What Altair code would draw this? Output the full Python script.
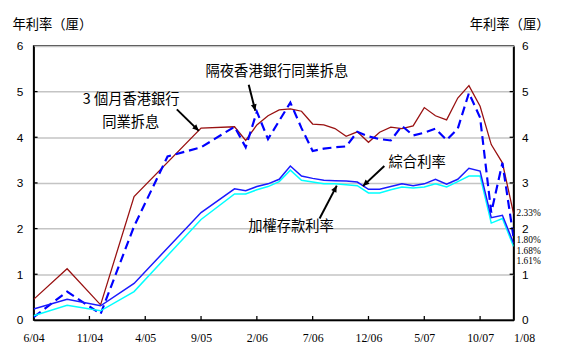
import math
import altair as alt
import pandas as pd

# ---------------- data ----------------
hibor3m_months = ["2004-06", "2004-09", "2004-12", "2005-03", "2005-09", "2005-12",
                  "2006-01", "2006-02", "2006-03", "2006-04", "2006-05", "2006-06", "2006-07",
                  "2006-08", "2006-09", "2006-10", "2006-11", "2006-12", "2007-01", "2007-02",
                  "2007-03", "2007-04", "2007-05", "2007-06", "2007-07", "2007-08", "2007-09",
                  "2007-10", "2007-11", "2007-12", "2008-01"]
hibor3m_values = [0.45, 1.12, 0.33, 2.70, 4.20, 4.23,
                  3.93, 4.27, 4.47, 4.60, 4.62, 4.57, 4.29,
                  4.27, 4.19, 4.02, 4.12, 3.89, 4.11, 4.22,
                  4.19, 4.25, 4.65, 4.47, 4.38, 4.86, 5.13,
                  4.68, 3.84, 3.44, 2.33]

overnight_months = ["2004-06", "2004-09", "2004-12", "2005-03", "2005-06", "2005-09", "2005-12",
                    "2006-01", "2006-02", "2006-03", "2006-04", "2006-05", "2006-06", "2006-07",
                    "2006-08", "2006-09", "2006-10", "2006-11", "2006-12", "2007-01", "2007-02",
                    "2007-03", "2007-04", "2007-05", "2007-06", "2007-07", "2007-08", "2007-09",
                    "2007-10", "2007-11", "2007-12", "2008-01"]
overnight_values = [0.06, 0.62, 0.13, 2.05, 3.58, 3.78, 4.23,
                    3.78, 4.56, 3.96, 4.36, 4.76, 4.20, 3.70,
                    3.75, 3.78, 3.80, 4.12, 4.02, 3.96, 3.93,
                    4.25, 4.04, 4.10, 4.19, 3.94, 4.19, 4.97,
                    4.43, 2.35, 3.44, 1.80]

composite_months = hibor3m_months
composite_values = [0.24, 0.45, 0.31, 0.80, 2.35, 2.87,
                    2.83, 2.92, 2.98, 3.08, 3.37, 3.15, 3.10,
                    3.06, 3.05, 3.04, 3.02, 2.86, 2.86, 2.92,
                    2.98, 2.94, 2.98, 3.08, 2.97, 3.08, 3.32,
                    3.26, 2.24, 2.29, 1.68]

deposit_months = hibor3m_months
deposit_values = [0.09, 0.32, 0.20, 0.62, 2.20, 2.76,
                  2.76, 2.85, 2.92, 3.03, 3.28, 3.06, 3.02,
                  2.98, 2.98, 2.96, 2.94, 2.78, 2.78, 2.85,
                  2.91, 2.89, 2.91, 2.98, 2.91, 3.03, 3.15,
                  3.15, 2.12, 2.22, 1.61]

xtick_months = ["2004-06", "2004-11", "2005-04", "2005-09", "2006-02", "2006-07",
                "2006-12", "2007-05", "2007-10", "2008-01"]
xtick_labels = ["6/04", "11/04", "4/05", "9/05", "2/06", "7/06", "12/06", "5/07", "10/07", "1/08"]
ytick_values = [0, 1, 2, 3, 4, 5, 6]

pct_labels = ["2.33%", "1.80%", "1.68%", "1.61%"]
pct_label_pos = [2.34, 1.75, 1.51, 1.28]

axis_title = "年利率（厘）"

ann_texts = ["3 個月香港銀行", "同業拆息", "隔夜香港銀行同業拆息", "綜合利率", "加權存款利率"]
ann_m = [8.74, 8.70, 21.8, 34.36, 23.06]
ann_v = [4.81, 4.32, 5.42, 3.43, 2.04]

arrow_m0 = [12.83, 19.27, 31.42, 25.62]
arrow_v0 = [4.61, 5.15, 3.37, 2.22]
arrow_m1 = [14.80, 19.86, 29.50, 27.16]
arrow_v1 = [4.14, 4.58, 2.93, 2.94]

# ---------------- layout ----------------
W, H = 487, 278
N_MONTHS = 43
CJK = "Noto Sans CJK TC"


def midx(s):
    y, m = s.split("-")
    return (int(y) - 2004) * 12 + int(m) - 6


def series_df(months, values):
    return pd.DataFrame({"m": [midx(s) for s in months], "v": values})


xticks = [midx(s) for s in xtick_months]
label_expr = "''"
for val, lab in reversed(list(zip(xticks, xtick_labels))):
    label_expr = f"datum.value == {val} ? '{lab}' : ({label_expr})"

xscale = alt.Scale(domain=[0, N_MONTHS], nice=False, zero=False)
yscale = alt.Scale(domain=[0, 6], nice=False, zero=True)

x_axis = alt.Axis(
    values=xticks, labelExpr=label_expr, grid=False, domain=True, domainColor="black",
    domainWidth=1.5, ticks=False, labelPadding=13, labelFont="Liberation Serif",
    labelFontSize=12, labelColor="black", labelFlush=False,
    labelAlign={"condition": {"test": f"datum.value == {N_MONTHS}", "value": "left"}, "value": "center"},
    title=None)

y_axis = alt.Axis(
    values=ytick_values, grid=True, gridColor="#c4c4c4", gridWidth=1.5,
    domain=True, domainColor="black", domainWidth=1.5, ticks=False,
    labelPadding=11, labelFont="Liberation Sans", labelFontSize=12, labelColor="black",
    title=axis_title, titleAngle=0, titleAlign="left", titleBaseline="middle",
    titleX=-22, titleY=-22, titleFont=CJK, titleFontSize=13.5, titleFontWeight="normal",
    titleColor="black")


def X(field):
    return alt.X(f"{field}:Q", scale=xscale, axis=x_axis)


def Y(field):
    return alt.Y(f"{field}:Q", scale=yscale, axis=y_axis)


def line(months, values, color, width, dash=None):
    kw = dict(color=color, strokeWidth=width, clip=True)
    if dash:
        kw["strokeDash"] = dash
    return alt.Chart(series_df(months, values)).mark_line(**kw).encode(x=X("m"), y=Y("v"))


l_3m = line(hibor3m_months, hibor3m_values, "#991111", 1.3)
l_on = line(overnight_months, overnight_values, "#0000ff", 2.2, [9, 5])
l_dep = line(deposit_months, deposit_values, "#00ffff", 1.5)
l_comp = line(composite_months, composite_values, "#1a1aff", 1.5)

# inward tick marks
ytick_df = pd.DataFrame({"v": ytick_values[1:-1]})
yt_left = alt.Chart(ytick_df).mark_rule(color="black", strokeWidth=1.3).encode(
    y=Y("v"), x=alt.value(0), x2=alt.value(4))
yt_right = alt.Chart(ytick_df).mark_rule(color="black", strokeWidth=1.3).encode(
    y=Y("v"), x=alt.value(W - 4), x2=alt.value(W))
xtick_df = pd.DataFrame({"m": xticks[1:-1]})
xt = alt.Chart(xtick_df).mark_rule(color="black", strokeWidth=1.3).encode(
    x=X("m"), y=alt.value(H - 4), y2=alt.value(H))

# annotations
ann_df = pd.DataFrame({"m": ann_m, "v": ann_v, "t": ann_texts})
ann = alt.Chart(ann_df).mark_text(font=CJK, fontSize=14.5, color="black",
                                  align="center", baseline="middle").encode(
    x=X("m"), y=Y("v"), text="t:N")

px_x = W / N_MONTHS
px_y = H / 6.0
angles = []
for a0, b0, a1, b1 in zip(arrow_m0, arrow_v0, arrow_m1, arrow_v1):
    dx = (a1 - a0) * px_x
    dy = -(b1 - b0) * px_y
    angles.append((math.degrees(math.atan2(dx, -dy)) + 360) % 360)
arr_df = pd.DataFrame({"m0": arrow_m0, "v0": arrow_v0, "m1": arrow_m1, "v1": arrow_v1, "ang": angles})
arr_lines = alt.Chart(arr_df).mark_rule(color="black", strokeWidth=2).encode(
    x=X("m0"), y=Y("v0"), x2="m1:Q", y2="v1:Q")
arr_heads = alt.Chart(arr_df).mark_point(
    shape="M0,0L-0.5,1.1L0.5,1.1Z", filled=True, color="black", opacity=1, size=140).encode(
    x=X("m1"), y=Y("v1"), angle=alt.Angle("ang:Q", scale=None))

left_layer = alt.layer(l_3m, l_on, l_dep, l_comp, yt_left, yt_right, xt, arr_lines, arr_heads, ann)

# right axis with percent labels
pct_df = pd.DataFrame({"v": pct_label_pos, "t": pct_labels})
right = alt.Chart(pct_df).mark_text(font="Liberation Serif", fontSize=9.5, color="black",
                                    align="left", baseline="middle", dx=3).encode(
    x=alt.value(W),
    y=alt.Y("v:Q", scale=yscale, axis=alt.Axis(
        orient="right", values=ytick_values, grid=False, domain=True, domainColor="black",
        domainWidth=1.5, ticks=False, labelPadding=8, labelFont="Liberation Sans",
        labelFontSize=12, labelColor="black",
        title=axis_title, titleAngle=0, titleAlign="left", titleBaseline="middle",
        titleX=-45, titleY=-22, titleFont=CJK, titleFontSize=13.5, titleFontWeight="normal",
        titleColor="black")),
    text="t:N")

chart = alt.layer(left_layer, right).resolve_scale(y="independent").properties(
    width=W, height=H,
    autosize=alt.AutoSizeParams(type="none"),
    padding={"left": 26, "top": 36, "right": 40, "bottom": 26},
    background="white",
).configure_view(stroke="black", strokeWidth=1.5)

chart.save("out.html", embed_options={"renderer": "svg", "actions": False})
